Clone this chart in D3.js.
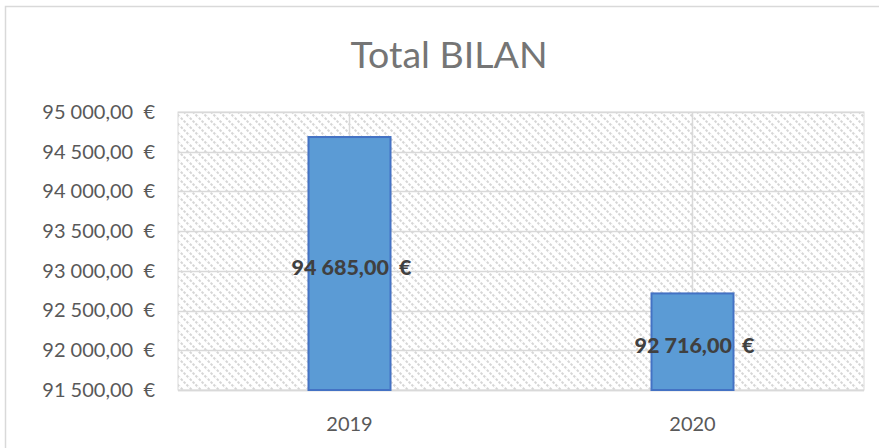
<!DOCTYPE html>
<html><head><meta charset="utf-8">
<script src="https://cdn.jsdelivr.net/npm/d3@7"></script>
<style>html,body{margin:0;padding:0;background:#fff;}svg{display:block;}</style>
</head><body>
<script>
const categories = ["2019", "2020"];
const values = [94685, 92716];
const yTicks = [91500, 92000, 92500, 93000, 93500, 94000, 94500, 95000];
const title = "Total BILAN";

const W = 879, H = 448;
const plot = {left: 178, right: 864, top: 112, bottom: 390};
const font = "Lato, 'Open Sans', sans-serif";

const fmt = v => {
  const s = d3.format(",.2f")(v).replace(/,/g, " ").replace(".", ",");
  return s + "\u00a0\u00a0€";
};

const svg = d3.select("body").append("svg").attr("width", W).attr("height", H);

const defs = svg.append("defs");
const pat = defs.append("pattern").attr("id", "hatch").attr("patternUnits", "userSpaceOnUse")
  .attr("width", 9).attr("height", 9);
pat.append("rect").attr("width", 9).attr("height", 9).attr("fill", "#fff");
pat.append("path").attr("d", "M-2,-2 L11,11 M-2,7 L2,11 M7,-2 L11,2")
  .attr("stroke", "#d6d6d6").attr("stroke-width", 2).attr("stroke-dasharray", "2.5,1.5");

// chart border
svg.append("rect").attr("x", 5.5).attr("y", 6.5).attr("width", W).attr("height", H)
  .attr("fill", "none").attr("stroke", "#d9d9d9").attr("stroke-width", 1.5);

const x = d3.scaleBand().domain(categories).range([plot.left, plot.right]);
const y = d3.scaleLinear().domain([91500, 95000]).range([plot.bottom, plot.top]);

svg.append("rect").attr("x", plot.left).attr("y", plot.top)
  .attr("width", plot.right - plot.left).attr("height", plot.bottom - plot.top)
  .attr("fill", "url(#hatch)").attr("stroke", "#d9d9d9").attr("stroke-width", 1);

// horizontal gridlines
svg.append("g").selectAll("line").data(yTicks).join("line")
  .attr("x1", plot.left).attr("x2", plot.right)
  .attr("y1", d => Math.round(y(d)) + 0.5).attr("y2", d => Math.round(y(d)) + 0.5)
  .attr("stroke", "#d9d9d9").attr("stroke-width", 1.5);

// vertical gridlines at category centers
svg.append("g").selectAll("line").data(categories).join("line")
  .attr("x1", d => x(d) + x.bandwidth() / 2).attr("x2", d => x(d) + x.bandwidth() / 2)
  .attr("y1", plot.top).attr("y2", plot.bottom)
  .attr("stroke", "#d9d9d9").attr("stroke-width", 1.5);

// y-axis labels
const yAxis = d3.axisLeft(y).tickValues(yTicks).tickFormat(fmt).tickSize(0).tickPadding(0);
const gy = svg.append("g").attr("transform", `translate(${155},0)`).call(yAxis);
gy.select(".domain").remove();
gy.selectAll("text").attr("font-family", font).attr("font-size", 20).attr("fill", "#595959");

// x-axis labels
const xAxis = d3.axisBottom(x).tickSize(0).tickPadding(0);
const gx = svg.append("g").attr("transform", `translate(0,${plot.bottom + 27})`).call(xAxis);
gx.select(".domain").remove();
gx.selectAll("text").attr("font-family", font).attr("font-size", 20).attr("fill", "#595959");

// bottom axis line
svg.append("line").attr("x1", plot.left).attr("x2", plot.right)
  .attr("y1", plot.bottom + 0.5).attr("y2", plot.bottom + 0.5)
  .attr("stroke", "#d9d9d9").attr("stroke-width", 1.5);

// bars
const bw = 82;
const data = categories.map((c, i) => ({c, v: values[i]}));
svg.append("g").selectAll("rect").data(data).join("rect")
  .attr("x", d => x(d.c) + x.bandwidth() / 2 - bw / 2)
  .attr("y", d => y(d.v))
  .attr("width", bw)
  .attr("height", d => plot.bottom - y(d.v))
  .attr("fill", "#5B9BD5").attr("stroke", "#4472C4").attr("stroke-width", 2);

// labels
svg.append("g").selectAll("text").data(data).join("text")
  .attr("x", d => x(d.c) + x.bandwidth() / 2 + 2)
  .attr("y", d => (y(d.v) + plot.bottom) / 2 + 4)
  .attr("dy", "0.35em")
  .attr("text-anchor", "middle")
  .attr("font-family", font).attr("font-size", 21.5).attr("font-weight", "900")
  .attr("fill", "#404040")
  .text(d => fmt(d.v));

// title
svg.append("text").attr("x", 449).attr("y", 68).attr("text-anchor", "middle")
  .attr("font-family", font).attr("font-size", 37.5).attr("fill", "#757575")
  .text(title);
</script>
</body></html>
